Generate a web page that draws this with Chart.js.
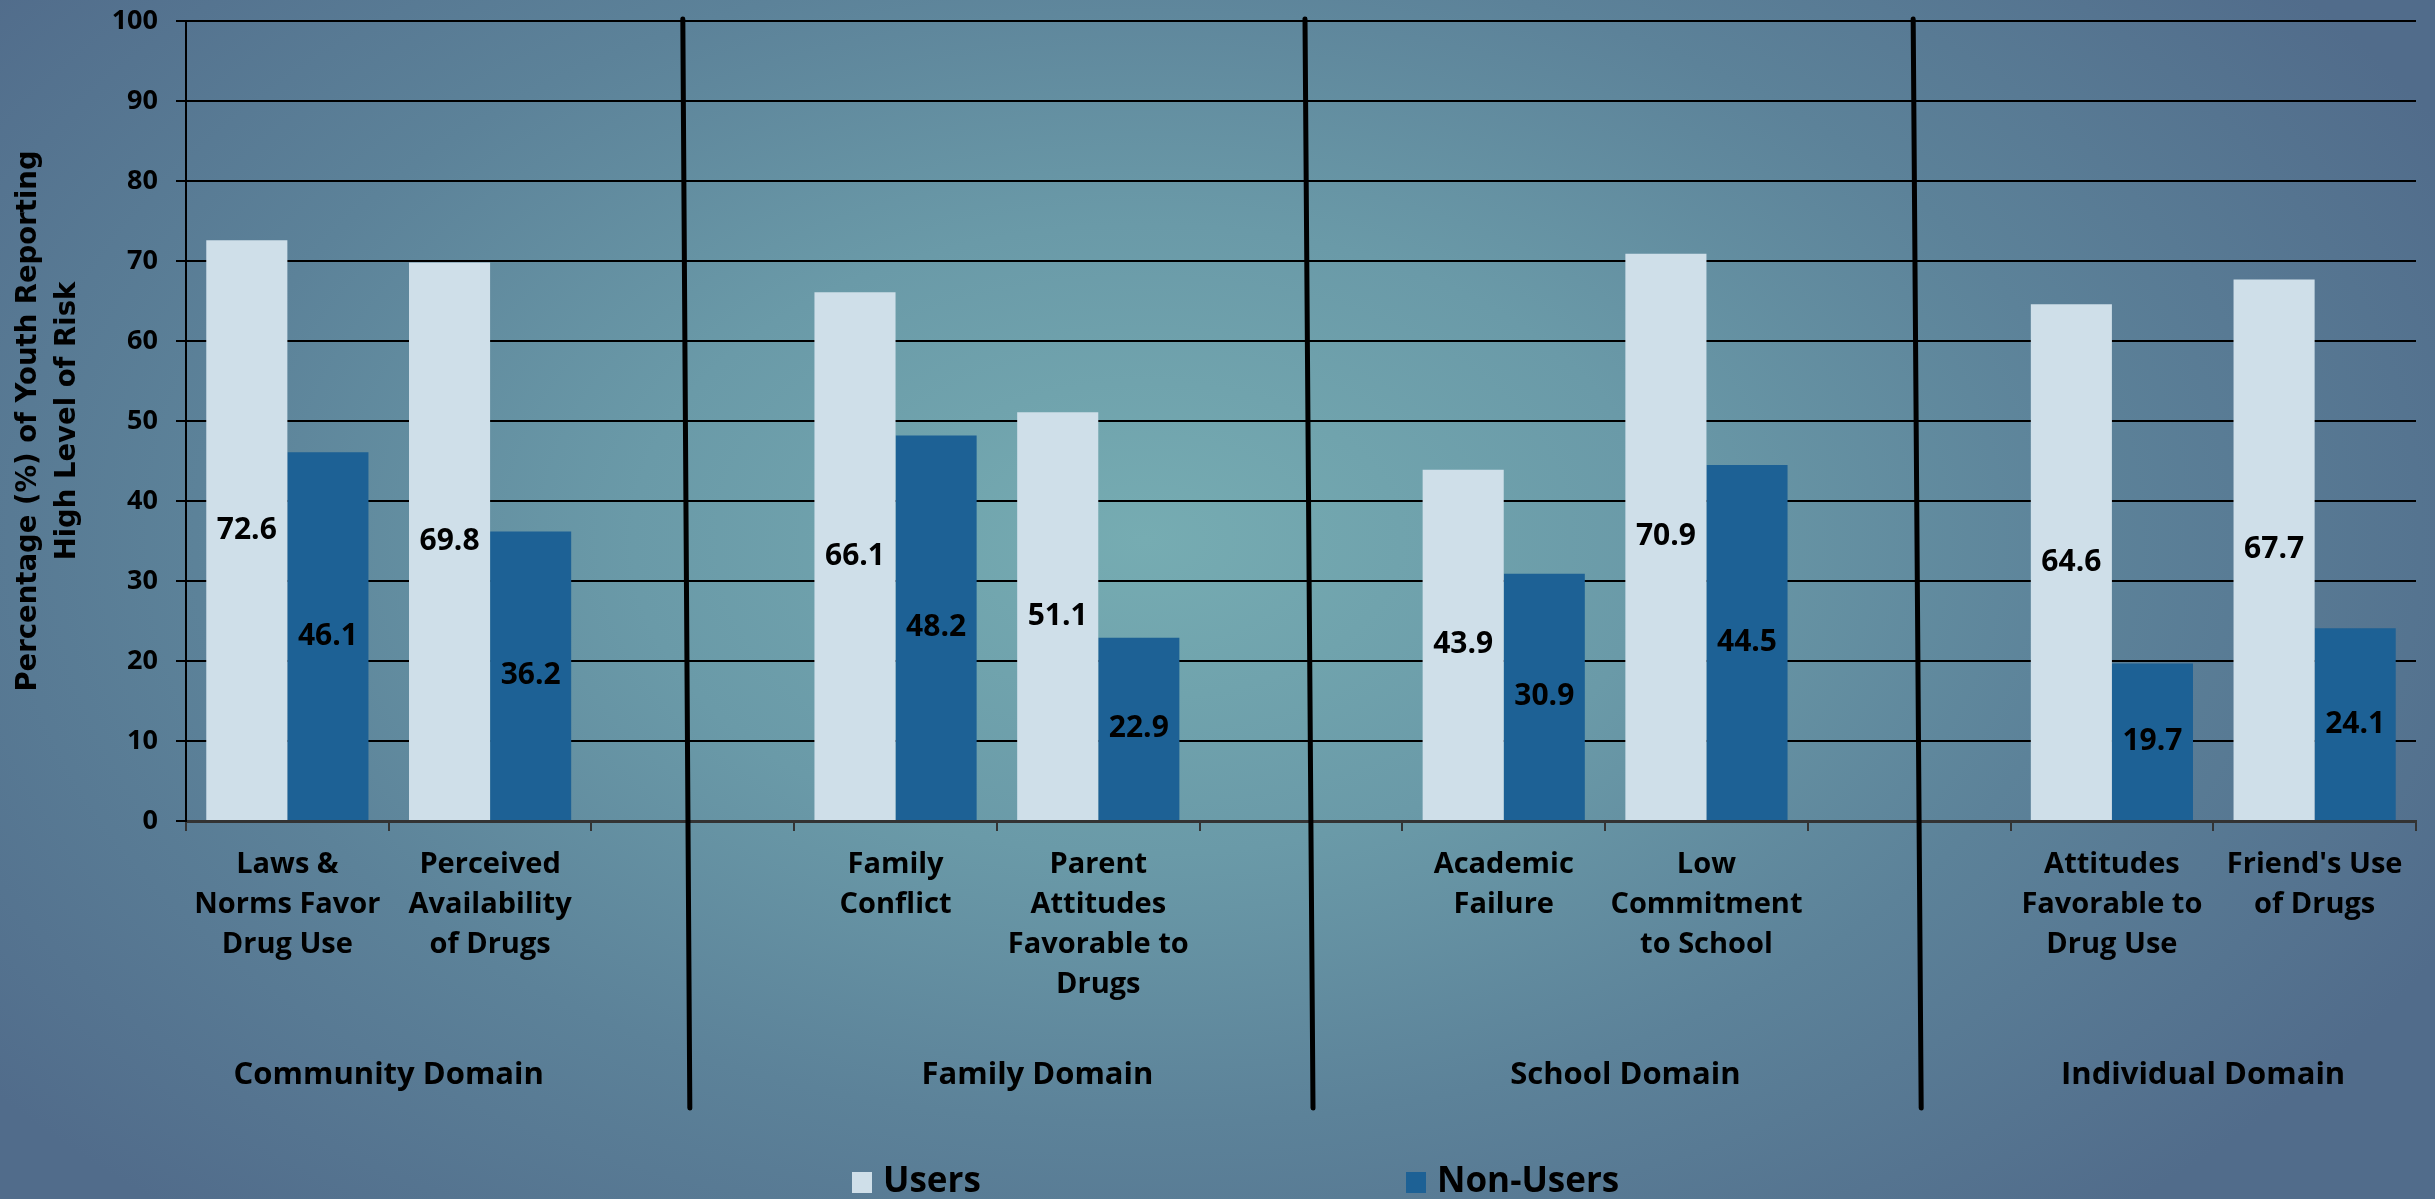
<!DOCTYPE html>
<html>
<head>
<meta charset="utf-8">
<title>Risk Factors - Users vs Non-Users</title>
<script src="https://cdn.jsdelivr.net/npm/chart.js@4.4.0/dist/chart.umd.min.js"></script>
<style>
    html, body { margin: 0; padding: 0; }
    body {
        width: 2435px;
        height: 1199px;
        overflow: hidden;
        background: radial-gradient(ellipse 60% 75% at 47% 45%, #76acb2 0%, #6a9aa8 35%, #5c8299 65%, #516c8b 100%);
    }
    #wrap { position: relative; width: 2435px; height: 1199px; }
</style>
</head>
<body>
<div id="wrap"><canvas id="riskChart"></canvas></div>
<script>
// Categorias (vazias = espaço entre domínios)
const categories = [
    ['Laws &', 'Norms Favor', 'Drug Use'],
    ['Perceived', 'Availability', 'of Drugs'],
    '',
    ['Family', 'Conflict'],
    ['Parent', 'Attitudes', 'Favorable to', 'Drugs'],
    '',
    ['Academic', 'Failure'],
    ['Low', 'Commitment', 'to School'],
    '',
    ['Attitudes', 'Favorable to', 'Drug Use'],
    ["Friend's Use", 'of Drugs']
];
const usersValues    = [72.6, 69.8, null, 66.1, 51.1, null, 43.9, 70.9, null, 64.6, 67.7];
const nonUsersValues = [46.1, 36.2, null, 48.2, 22.9, null, 30.9, 44.5, null, 19.7, 24.1];
const domains = ['Community Domain', 'Family Domain', 'School Domain', 'Individual Domain'];
const separatorIdx = [2, 5, 8];

const usersColor = '#cfdfe9';
const nonUsersColor = '#1d6195';
const FONT = '"Open Sans", "DejaVu Sans", sans-serif';

const extrasPlugin = {
    id: 'extras',
    afterDatasetsDraw(chart) {
        const ctx = chart.ctx;
        const xScale = chart.scales.x;
        const area = chart.chartArea;

        ctx.save();

        // Valores no meio das barras
        ctx.font = 'bold 30px ' + FONT;
        ctx.fillStyle = '#000';
        ctx.textAlign = 'center';
        ctx.textBaseline = 'middle';
        chart.data.datasets.forEach((ds, i) => {
            chart.getDatasetMeta(i).data.forEach((bar, j) => {
                const v = ds.data[j];
                if (v == null) return;
                ctx.fillText(v.toFixed(1), bar.x, (bar.y + bar.base) / 2);
            });
        });

        // Linhas separadoras entre domínios (desenhadas à mão no original, levemente inclinadas)
        const topShift = [-10, 4, 4];
        const bottomShift = [-3, 12, 12];
        ctx.strokeStyle = '#000';
        ctx.lineWidth = 5;
        ctx.lineCap = 'round';
        separatorIdx.forEach((idx, k) => {
            const px = xScale.getPixelForValue(idx);
            ctx.beginPath();
            ctx.moveTo(px + topShift[k], area.top - 2);
            ctx.lineTo(px + bottomShift[k], area.bottom + 287);
            ctx.stroke();
        });

        // Nomes dos domínios
        const domainAt = [0.5, 3.7, 6.6, 9.45];
        ctx.font = 'bold 31px ' + FONT;
        domains.forEach((d, i) => {
            ctx.fillText(d, xScale.getPixelForValue(domainAt[i]), area.bottom + 254);
        });

        // Legenda
        const legendX = [852, 1406];
        const legendY = 1182;
        ctx.font = 'bold 35px ' + FONT;
        ctx.textAlign = 'left';
        chart.data.datasets.forEach((ds, i) => {
            ctx.fillStyle = ds.backgroundColor;
            ctx.fillRect(legendX[i], legendY - 10, 20, 21);
            ctx.fillStyle = '#000';
            ctx.fillText(ds.label, legendX[i] + 31, legendY);
        });

        ctx.restore();
    }
};

const ctx = document.getElementById('riskChart').getContext('2d');
new Chart(ctx, {
    type: 'bar',
    data: {
        labels: categories,
        datasets: [
            {
                label: 'Users',
                data: usersValues,
                backgroundColor: usersColor,
                borderWidth: 0,
                categoryPercentage: 0.8,
                barPercentage: 1.0
            },
            {
                label: 'Non-Users',
                data: nonUsersValues,
                backgroundColor: nonUsersColor,
                borderWidth: 0,
                categoryPercentage: 0.8,
                barPercentage: 1.0
            }
        ]
    },
    options: {
        responsive: true,
        maintainAspectRatio: false,
        animation: false,
        layout: {
            padding: { top: 21, right: 19, left: 0, bottom: 0 }
        },
        plugins: {
            legend: { display: false },
            tooltip: { enabled: false }
        },
        scales: {
            x: {
                afterFit(scale) { scale.height = 378; },
                grid: {
                    offset: true,
                    drawOnChartArea: false,
                    drawTicks: true,
                    tickLength: 10,
                    color: '#333',
                    lineWidth: 2
                },
                border: { display: true, color: '#333', width: 3 },
                ticks: {
                    autoSkip: false,
                    maxRotation: 0,
                    minRotation: 0,
                    padding: 14,
                    color: '#000',
                    font: { family: FONT, size: 29, weight: 'bold', lineHeight: 1.38 }
                }
            },
            y: {
                min: 0,
                max: 100,
                afterFit(scale) {
                    scale.width = 186;
                    scale.paddingTop = 0;
                },
                ticks: {
                    stepSize: 10,
                    padding: 18,
                    color: '#000',
                    font: { family: FONT, size: 27, weight: 'bold' }
                },
                grid: {
                    color: '#000',
                    lineWidth: 2,
                    tickLength: 10
                },
                border: { display: true, color: '#000', width: 2 },
                title: {
                    display: true,
                    text: ['Percentage (%) of Youth Reporting', 'High Level of Risk'],
                    color: '#000',
                    padding: { top: 9, bottom: 0 },
                    font: { family: '"DejaVu Sans", sans-serif', size: 27.5, weight: 'bold', lineHeight: 1.42 }
                }
            }
        }
    },
    plugins: [extrasPlugin]
});
</script>
</body>
</html>
